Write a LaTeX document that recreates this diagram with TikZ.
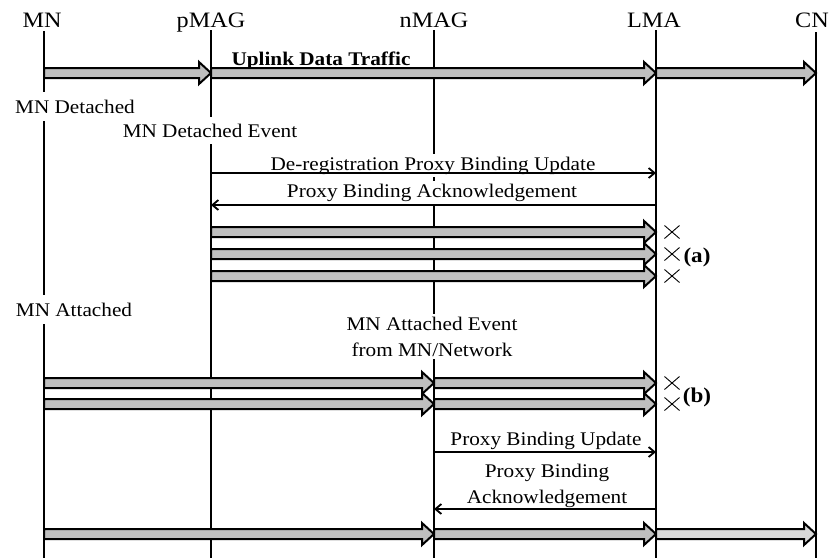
\documentclass[tikz,border=0pt]{standalone}
\usepackage{fontspec}
\setmainfont[FakeStretch=1.1]{Liberation Serif}
\usetikzlibrary{arrows.meta,calc}

\tikzset{
  life/.style={line width=2pt},
  head/.style={anchor=base, inner sep=1pt, font=\fontsize{22}{26}\selectfont},
  lbl/.style={fill=white, anchor=base, inner xsep=1pt, inner ysep=3pt,
              align=center, font=\fontsize{19.3}{25.5}\selectfont},
  evt/.style={lbl, inner ysep=7pt},
  tag/.style={anchor=base, inner sep=0pt, font=\fontsize{21}{24}\selectfont\bfseries},
  msg/.style={line width=2pt, -{Straight Barb[length=6pt,width=10pt,line width=1.8pt]}},
  flowline/.style={line width=2pt, line join=miter, draw=black},
  cross/.style={line width=0.9pt},
}

% Fat data-flow arrow between two lifelines at height #4
\newcommand\flow[4][black!25]{%
  \coordinate (fs) at (#2 |- 0,#4);
  \coordinate (fe) at (#3 |- 0,#4);
  \draw[flowline, fill=#1]
    ([yshift=5pt]fs) -- ([xshift=-12pt,yshift=5pt]fe)
    -- ([xshift=-12pt,yshift=11pt]fe) -- (fe)
    -- ([xshift=-12pt,yshift=-11pt]fe) -- ([xshift=-12pt,yshift=-5pt]fe)
    -- ([yshift=-5pt]fs) -- cycle;
}
% Lost-packet marker
\newcommand\lost[1]{%
  \draw[cross] (#1) +(-7.5,-6.5) -- +(7.5,6.5) +(-7.5,6.5) -- +(7.5,-6.5);
}

\begin{document}
\begin{tikzpicture}[x=1pt, y=-1pt]
\useasboundingbox (0,0) rectangle (831,558);

% entity names
\node[head] (tMN)   at (42,27)  {MN};
\node[head] (tpMAG) at (211,27) {pMAG};
\node[head] (tnMAG) at (434,27) {nMAG};
\node[head] (tLMA)  at (654,27) {LMA};
\node[head] (tCN)   at (812,27) {CN};

% lifelines
\coordinate (MN)   at (44,31);
\coordinate (pMAG) at (211,30);
\coordinate (nMAG) at (434,30);
\coordinate (LMA)  at (656,30);
\coordinate (CN)   at (816,32);
\foreach \l in {MN,pMAG,nMAG,LMA,CN}
  \draw[life] (\l) -- (\l |- 0,558);

% labels (white background breaks the lifelines)
\node[anchor=base, inner sep=0pt, font=\fontsize{19.3}{23}\selectfont\bfseries] (up) at (321,65) {Uplink Data Traffic};
\node[evt, inner ysep=8pt] (det)  at (75,113)  {MN Detached};
\node[evt] (detev) at (210,137) {MN Detached Event};
\node[lbl] (dereg) at (433,170) {De-registration Proxy Binding Update};
\node[lbl] (pba1)  at (432,197) {Proxy Binding Acknowledgement};
\node[evt, inner ysep=8pt] (att) at (74,316) {MN Attached};
\node[lbl] (attev) at (432,356) {MN Attached Event\\from MN/Network};
\node[lbl] (pbu2)  at (546,445) {Proxy Binding Update};
\node[lbl] (pba2)  at (547,503) {Proxy Binding\\Acknowledgement};

% uplink traffic before handover
\flow{MN}{pMAG}{73}
\flow{pMAG}{LMA}{73}
\flow{LMA}{CN}{73}

% de-registration signalling
\draw[msg] (pMAG |- 0,173) -- (LMA |- 0,173);
\draw[msg] (LMA |- 0,205) -- (pMAG |- 0,205);

% (a) packets forwarded from pMAG and dropped at LMA
\flow{pMAG}{LMA}{232}
\flow{pMAG}{LMA}{254}
\flow{pMAG}{LMA}{276}
\lost{672,232}
\lost{672,254}
\lost{672,276}
\node[tag] (la) at (697,262) {(a)};

% (b) packets sent via nMAG before registration
\flow{MN}{nMAG}{383}
\flow{nMAG}{LMA}{383}
\flow{MN}{nMAG}{404}
\flow{nMAG}{LMA}{404}
\lost{672,383}
\lost{672,404}
\node[tag] (lb) at (697,402) {(b)};

% registration at nMAG
\draw[msg] (nMAG |- 0,452) -- (LMA |- 0,452);
\draw[msg] (LMA |- 0,509) -- (nMAG |- 0,509);

% uplink traffic after handover
\flow{MN}{nMAG}{534}
\flow{nMAG}{LMA}{534}
\flow[black!15]{LMA}{CN}{534}
\end{tikzpicture}
\end{document}
